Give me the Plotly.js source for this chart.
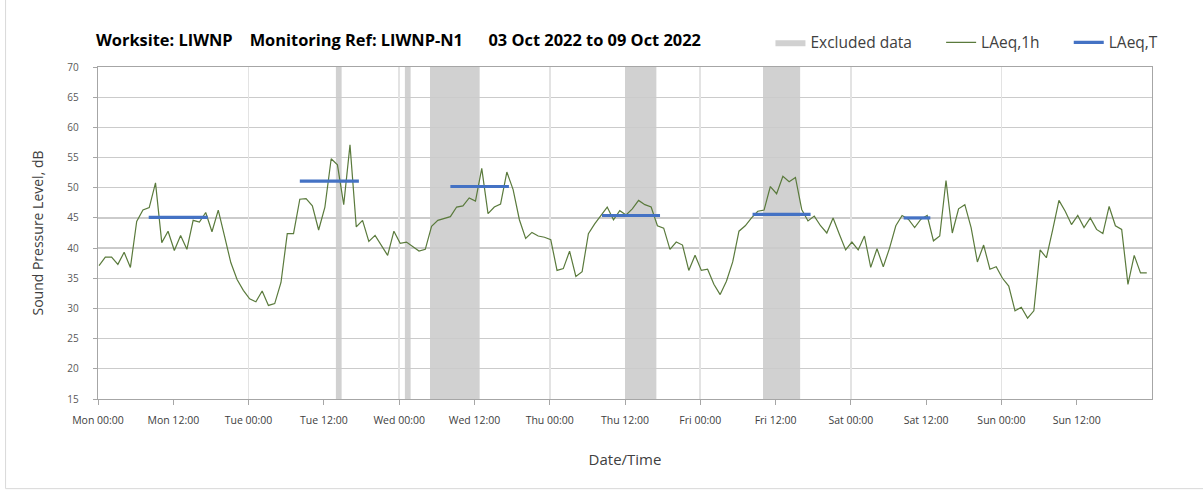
<!DOCTYPE html>
<html>
<head>
<meta charset="utf-8">
<script src="https://cdn.plot.ly/plotly-3.0.1.min.js"></script>
<style>html,body{margin:0;padding:0;background:#fff;}#chart{width:1203px;height:491px;}</style>
</head>
<body>
<div id="chart"></div>
<script>
// Hourly LAeq,1h values (dB), one array per day, Mon 03 Oct to Sun 09 Oct 2022
const mon = [37.1,38.5,38.5,37.3,39.3,36.8,44.4,46.3,46.7,50.8,40.9,42.8,39.6,42.1,39.8,44.6,44.3,45.9,42.7,46.3,42.0,37.6,34.8,33.0];
const tue = [31.6,31.1,32.9,30.5,30.8,34.3,42.4,42.4,48.1,48.2,47.0,43.0,46.8,54.8,53.8,47.2,57.1,43.5,44.6,41.1,42.1,40.5,38.8,42.8];
const wed = [40.8,41.0,40.2,39.5,39.8,43.6,44.6,44.9,45.2,46.8,47.0,48.3,47.8,53.2,45.7,46.8,47.3,52.6,49.7,44.7,41.6,42.6,42.0,41.8];
const thu = [41.4,36.3,36.6,39.5,35.3,36.1,42.4,44.0,45.4,46.8,44.7,46.2,45.5,46.5,47.9,47.2,46.8,43.7,43.3,39.8,41.0,40.5,36.3,38.8];
const fri = [36.3,36.5,34.0,32.3,34.5,37.7,42.8,43.7,45.0,46.1,46.3,50.2,49.0,51.9,51.0,51.7,46.4,44.5,45.3,43.7,42.5,45.0,42.3,39.7];
const sat = [41.0,39.7,42.0,36.8,39.9,36.9,40.0,43.7,45.4,44.8,43.4,44.8,45.4,41.2,42.0,51.2,42.5,46.5,47.2,43.4,37.7,40.5,36.5,36.9];
const sun = [35.0,33.7,29.6,30.2,28.4,29.6,39.7,38.4,43.0,47.9,46.1,43.9,45.4,43.4,45.0,43.1,42.4,46.9,43.7,43.1,34.0,38.8,35.9,35.9];
const dayDates = ['2022-10-03','2022-10-04','2022-10-05','2022-10-06','2022-10-07','2022-10-08','2022-10-09'];
const dayValues = [mon, tue, wed, thu, fri, sat, sun];

// LAeq,T periods
const periodStart = ['2022-10-03 08:05','2022-10-04 08:10','2022-10-05 08:10','2022-10-06 08:20','2022-10-07 08:20','2022-10-08 08:25'];
const periodEnd   = ['2022-10-03 17:30','2022-10-04 17:35','2022-10-05 17:30','2022-10-06 17:35','2022-10-07 17:35','2022-10-08 12:40'];
const periodLevel = [45.1, 51.1, 50.2, 45.4, 45.6, 45.0];

// Excluded data periods
const exclStart = ['2022-10-04 13:55','2022-10-05 00:55','2022-10-05 04:55','2022-10-06 12:00','2022-10-07 10:00'];
const exclEnd   = ['2022-10-04 14:50','2022-10-05 01:50','2022-10-05 12:50','2022-10-06 17:00','2022-10-07 15:55'];

// Axis
const xStart = '2022-10-03 00:00';
const xEnd = '2022-10-10 00:00';
const tickTimes = ['00:00', '12:00'];
const yMin = 15, yMax = 70;

const pad = n => (n < 10 ? '0' : '') + n;
const tx = [], ty = [];
dayValues.forEach((vals, d) => {
  vals.forEach((v, h) => { tx.push(dayDates[d] + ' ' + pad(h) + ':10'); ty.push(v); });
});
const tickvals = [];
dayDates.forEach(d => tickTimes.forEach(t => tickvals.push(d + ' ' + t)));

const bx = [], by = [];
periodStart.forEach((s, i) => {
  bx.push(s, periodEnd[i], null);
  by.push(periodLevel[i], periodLevel[i], null);
});

const shapes = exclStart.map((s, i) => ({
  type: 'rect', xref: 'x', yref: 'y', layer: 'below',
  x0: s, x1: exclEnd[i], y0: yMin, y1: yMax,
  fillcolor: '#d1d1d1', line: {width: 0}
}));
// outer figure border
shapes.push({type:'rect', xref:'paper', yref:'paper', layer:'below',
  x0: -0.0877, x1: 1.1, y0: -0.27, y1: 1.3, line:{color:'#d9d9d9', width:1}, fillcolor:'rgba(0,0,0,0)'});

const sp = n => '\u00a0'.repeat(n);
const traces = [
  {x:[null], y:[null], type:'scatter', mode:'lines', fill:'toself', fillcolor:'#d1d1d1',
   line:{width:0, color:'#d1d1d1'}, name:'Excluded data' + sp(6), hoverinfo:'skip'},
  {x: tx, y: ty, type:'scatter', mode:'lines', name:'LAeq,1h' + sp(6),
   line:{color:'#5a7a3c', width:1.2}},
  {x: bx, y: by, type:'scatter', mode:'lines', name:'LAeq,T',
   line:{color:'#4472c4', width:3.2}, connectgaps:false},
  {x:[xStart], y:[null], xaxis:'x2', type:'scatter', mode:'lines', showlegend:false, hoverinfo:'skip'}
];

const font = 'Open Sans, Lato, sans-serif';
const layout = {
  width: 1203, height: 491,
  margin: {l: 97.5, r: 51.3, t: 67.3, b: 91.7},
  paper_bgcolor: '#ffffff', plot_bgcolor: 'rgba(0,0,0,0)',
  font: {family: font, color: '#404040'},
  title: {
    text: 'Worksite: LIWNP' + sp(4) + 'Monitoring Ref: LIWNP-N1' + sp(6) + '03 Oct 2022 to 09 Oct 2022',
    x: 96/1203, xanchor: 'left', xref: 'container',
    y: 1 - 40/491, yanchor: 'middle', yref: 'container',
    font: {family: font, size: 16.4, color: '#000000', weight: 'bold'}
  },
  showlegend: true,
  legend: {
    orientation: 'h', x: 0.638, xanchor: 'left', y: 1.073, yanchor: 'middle',
    font: {family: font, size: 15.5, color: '#404040'}, bgcolor: 'rgba(0,0,0,0)',
    itemwidth: 30, tracegroupgap: 0
  },
  xaxis: {
    type: 'date', range: [xStart, xEnd],
    tickmode: 'array', tickvals: tickvals, tickformat: '%a %H:%M',
    showgrid: false, zeroline: false,
    ticks: 'outside', ticklen: 5, tickcolor: '#a6a6a6', ticklabelstandoff: 6,
    showline: true, linecolor: '#a6a6a6', linewidth: 1.3, mirror: true,
    tickfont: {family: font, size: 10.5, color: '#404040'},
    title: {text: 'Date/Time', font: {family: font, size: 15, color: '#404040'}, standoff: 28}
  },
  xaxis2: {
    type: 'date', range: [xStart, xEnd], overlaying: 'x',
    tick0: xStart, dtick: 86400000, showgrid: true, gridcolor: '#e3e3e3', gridwidth: 1.6,
    showticklabels: false, ticks: '', showline: false, zeroline: false
  },
  yaxis: {
    range: [yMin, yMax], dtick: 5, tick0: 15,
    showgrid: true, gridcolor: '#cbcbcb', gridwidth: 1.3, zeroline: false,
    ticks: 'outside', ticklen: 4, tickcolor: '#a6a6a6', ticklabelstandoff: 12,
    showline: true, linecolor: '#a6a6a6', linewidth: 1.3, mirror: true,
    tickfont: {family: font, size: 10, color: '#595959'},
    title: {text: 'Sound Pressure Level, dB', font: {family: font, size: 14, color: '#404040'}, standoff: 20}
  },
  shapes: shapes
};

Plotly.newPlot('chart', traces, layout, {displayModeBar: false, staticPlot: true});
</script>
</body>
</html>
